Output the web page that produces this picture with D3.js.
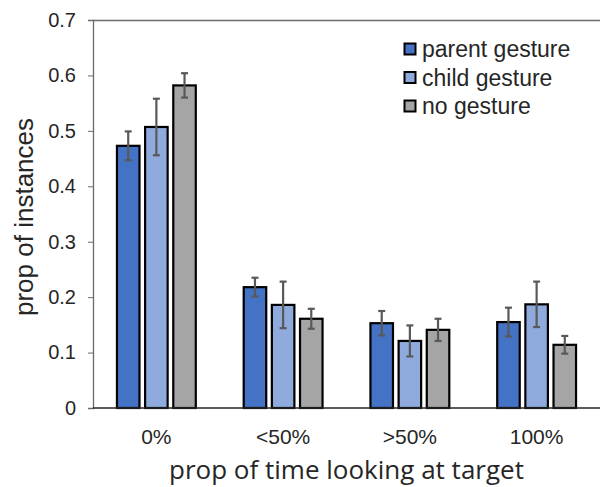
<!DOCTYPE html>
<html><head><meta charset="utf-8">
<script src="https://cdn.jsdelivr.net/npm/d3@7"></script>
<style>body{margin:0;background:#fff}svg{display:block}</style>
</head><body>
<svg id="c" width="600" height="487"></svg>
<script>
const categories = ["0%", "<50%", ">50%", "100%"];
const seriesNames = ["parent gesture", "child gesture", "no gesture"];
const parentVals = [0.473, 0.218, 0.153, 0.155];
const childVals  = [0.507, 0.186, 0.121, 0.187];
const noVals     = [0.582, 0.161, 0.141, 0.114];
const parentErr  = [0.026, 0.017, 0.022, 0.026];
const childErr   = [0.051, 0.042, 0.028, 0.041];
const noErr      = [0.022, 0.018, 0.020, 0.016];
const yTicks = [0, 0.1, 0.2, 0.3, 0.4, 0.5, 0.6, 0.7];
const colors = ["#4472C4", "#8FAADC", "#A5A5A5"];

const series = [
  {name: seriesNames[0], vals: parentVals, err: parentErr, color: colors[0]},
  {name: seriesNames[1], vals: childVals, err: childErr, color: colors[1]},
  {name: seriesNames[2], vals: noVals, err: noErr, color: colors[2]}
];

const SANS = "'Liberation Sans', Arial, sans-serif";
const m = {left: 93, top: 20, right: 600, bottom: 408};
const svg = d3.select("#c");
const x = d3.scaleBand().domain(categories).range([m.left, m.right]).paddingInner(0.378).paddingOuter(0.189);
const xs = d3.scaleBand().domain(seriesNames).range([0, x.bandwidth()]).paddingInner(0.2).paddingOuter(0);
const y = d3.scaleLinear().domain([0, 0.7]).range([m.bottom, m.top]);

// top border
svg.append("line").attr("x1", m.left).attr("x2", m.right).attr("y1", m.top + 0.5).attr("y2", m.top + 0.5)
  .attr("stroke", "#6b6b6b").attr("stroke-width", 1.3);

// y axis
const yAxis = svg.append("g").attr("transform", `translate(${m.left},0)`)
  .call(d3.axisLeft(y).tickValues(yTicks).tickSize(5).tickPadding(12)
    .tickFormat(d => d === 0 ? "0" : d3.format(".1f")(d)));
yAxis.select(".domain").attr("stroke", "#6b6b6b").attr("stroke-width", 1.3);
yAxis.selectAll(".tick line").attr("stroke", "#6b6b6b");
yAxis.selectAll("text").attr("font-family", SANS).attr("font-size", 20).attr("fill", "#262626");

// bars
const g = svg.append("g");
series.forEach(s => {
  g.selectAll(null).data(categories).enter().append("rect")
    .attr("x", d => x(d) + xs(s.name))
    .attr("y", (d, i) => y(s.vals[i]))
    .attr("width", xs.bandwidth())
    .attr("height", (d, i) => y(0) - y(s.vals[i]))
    .attr("fill", s.color).attr("stroke", "#000").attr("stroke-width", 2.2);
});

// x axis line
svg.append("line").attr("x1", m.left).attr("x2", m.right).attr("y1", m.bottom).attr("y2", m.bottom)
  .attr("stroke", "#262626").attr("stroke-width", 1.3);

// error bars
series.forEach(s => {
  const eg = g.selectAll(null).data(categories).enter().append("g");
  const cx = d => x(d) + xs(s.name) + xs.bandwidth() / 2;
  eg.append("line").attr("x1", cx).attr("x2", cx)
    .attr("y1", (d, i) => y(s.vals[i] + s.err[i])).attr("y2", (d, i) => y(s.vals[i] - s.err[i]))
    .attr("stroke", "#595959").attr("stroke-width", 2.2);
  [1, -1].forEach(sg => {
    eg.append("line").attr("x1", d => cx(d) - 3.5).attr("x2", d => cx(d) + 3.5)
      .attr("y1", (d, i) => y(s.vals[i] + sg * s.err[i])).attr("y2", (d, i) => y(s.vals[i] + sg * s.err[i]))
      .attr("stroke", "#595959").attr("stroke-width", 2.2);
  });
});

// x tick labels
svg.append("g").selectAll("text").data(categories).enter().append("text")
  .attr("x", d => x(d) + x.bandwidth() / 2).attr("y", 444)
  .attr("text-anchor", "middle").attr("font-family", SANS)
  .attr("font-size", 21).attr("fill", "#262626").text(d => d);

// axis titles
svg.append("text").attr("x", (m.left + m.right) / 2).attr("y", 479).attr("text-anchor", "middle")
  .attr("font-family", "'Open Sans', sans-serif").attr("font-size", 26).attr("fill", "#262626")
  .text("prop of time looking at target");
svg.append("text").attr("transform", "translate(33,217) rotate(-90)").attr("text-anchor", "middle")
  .attr("font-family", SANS).attr("font-size", 26).attr("fill", "#262626")
  .text("prop of instances");

// legend
const lg = svg.append("g").selectAll("g").data(series).enter().append("g")
  .attr("transform", (d, i) => `translate(404,${49 + i * 28.5})`);
lg.append("rect").attr("x", 0.5).attr("y", -5.5).attr("width", 11).attr("height", 11)
  .attr("fill", d => d.color).attr("stroke", "#000").attr("stroke-width", 2);
lg.append("text").attr("x", 18).attr("y", 8).attr("font-family", SANS)
  .attr("font-size", 23).attr("fill", "#262626").text(d => d.name);
</script>
</body></html>
